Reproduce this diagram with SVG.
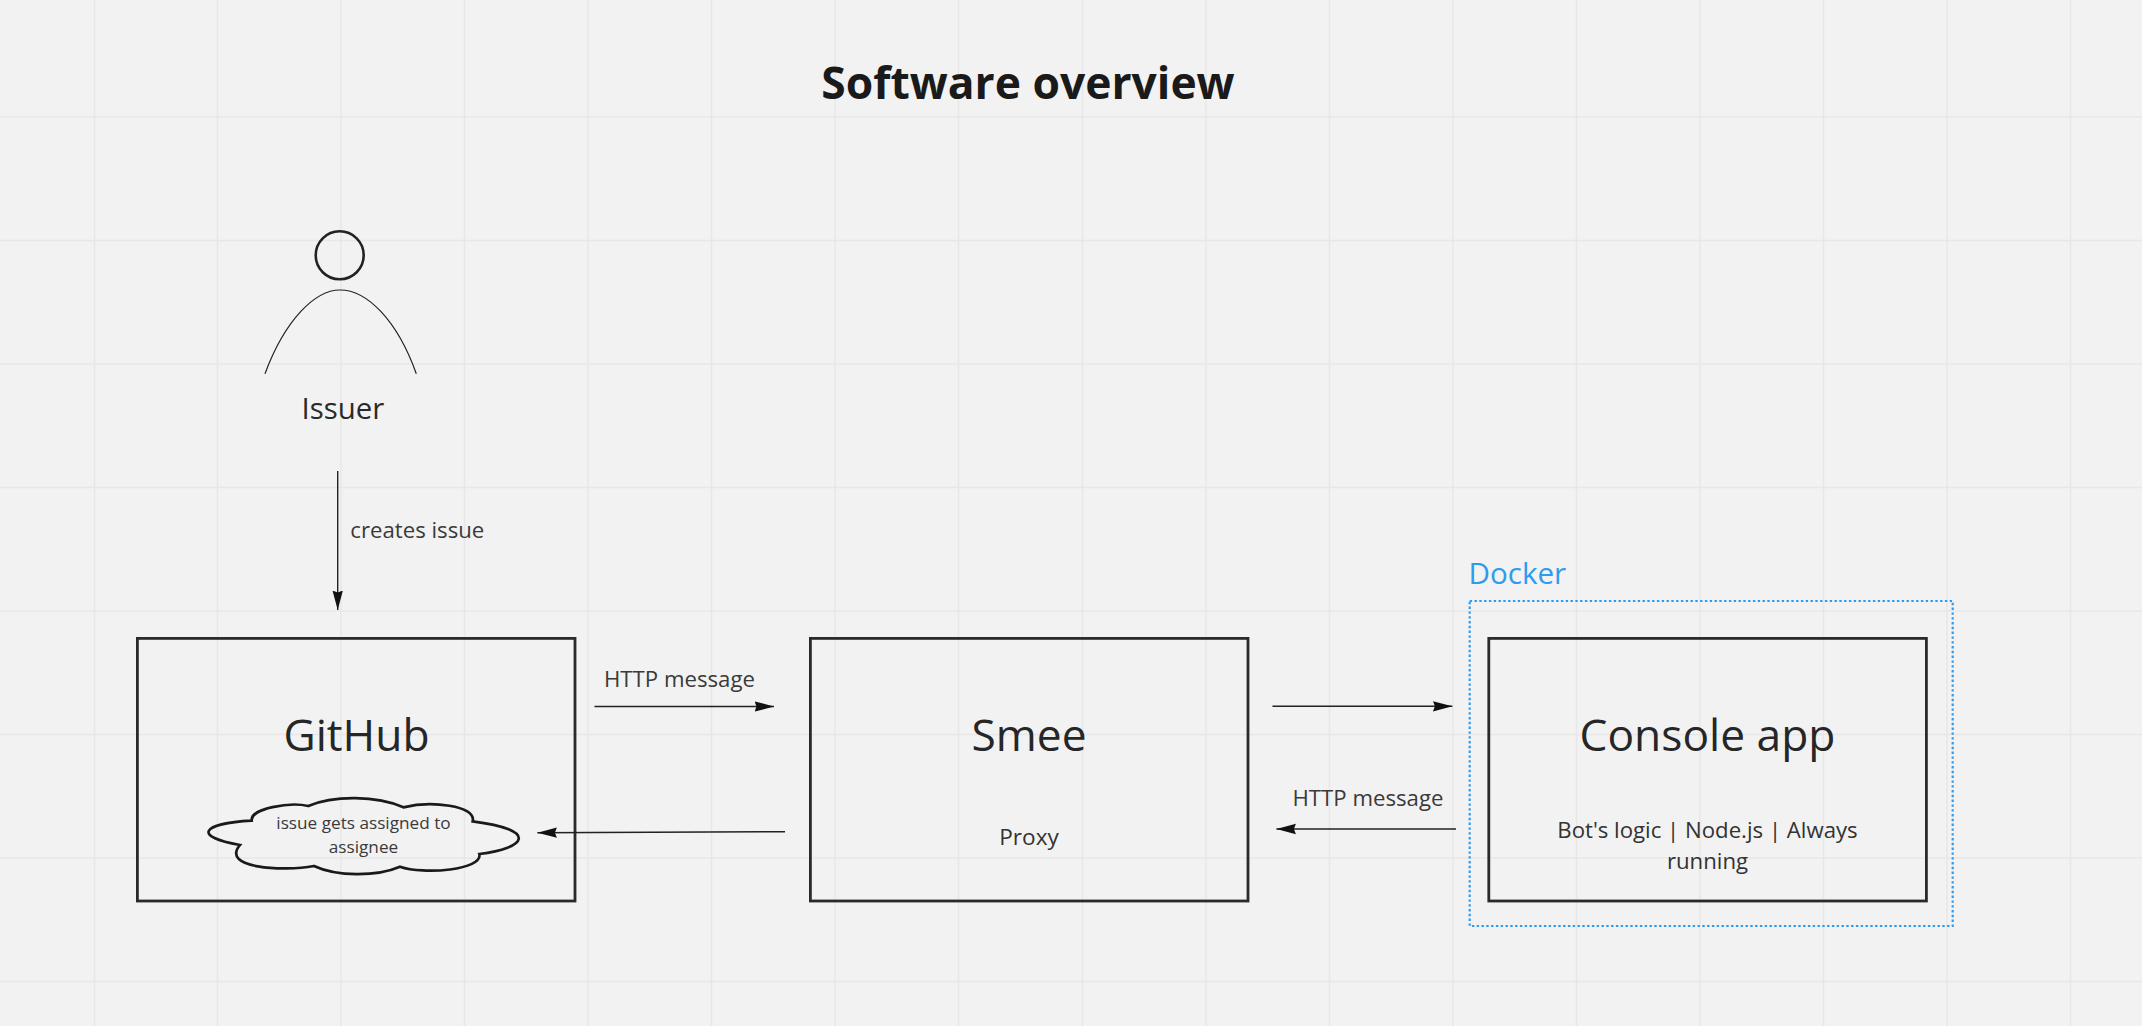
<svg xmlns="http://www.w3.org/2000/svg" width="2142" height="1026" viewBox="0 0 2142 1026">
<style>
text{font-family:"Open Sans","Noto Sans",sans-serif;fill:#222;font-weight:400}
.c{text-anchor:middle}
.big{font-size:44.3px;fill:#262626}
.lab{font-size:22.2px;fill:#3a3a3a}
.sub{font-size:22.6px;fill:#333}
.box{fill:none;stroke:#2a2a2a;stroke-width:2.8}
.grid line{stroke:#e7e7e7;stroke-width:1.5}
.conn line{stroke:#222;stroke-width:1.4;marker-end:url(#a)}
</style>
<defs>
<marker id="a" markerUnits="userSpaceOnUse" markerWidth="20" markerHeight="12" refX="19.5" refY="5.5" orient="auto"><path d="M0 0.3L19.5 5.5L0 10.7L2 5.5Z" fill="#111"/></marker>
</defs>
<rect width="2142" height="1026" fill="#f2f2f2"/>
<g class="grid">
<line x1="94.5" y1="0" x2="94.5" y2="1026"/><line x1="217.5" y1="0" x2="217.5" y2="1026"/><line x1="341" y1="0" x2="341" y2="1026"/><line x1="464.5" y1="0" x2="464.5" y2="1026"/><line x1="588" y1="0" x2="588" y2="1026"/><line x1="711.5" y1="0" x2="711.5" y2="1026"/><line x1="835" y1="0" x2="835" y2="1026"/><line x1="958.5" y1="0" x2="958.5" y2="1026"/><line x1="1082.5" y1="0" x2="1082.5" y2="1026"/><line x1="1206" y1="0" x2="1206" y2="1026"/><line x1="1329.5" y1="0" x2="1329.5" y2="1026"/><line x1="1453" y1="0" x2="1453" y2="1026"/><line x1="1576.5" y1="0" x2="1576.5" y2="1026"/><line x1="1700" y1="0" x2="1700" y2="1026"/><line x1="1823.5" y1="0" x2="1823.5" y2="1026"/><line x1="1947" y1="0" x2="1947" y2="1026"/><line x1="2070.5" y1="0" x2="2070.5" y2="1026"/>
<line x1="0" y1="117" x2="2142" y2="117"/><line x1="0" y1="240.5" x2="2142" y2="240.5"/><line x1="0" y1="364" x2="2142" y2="364"/><line x1="0" y1="487.5" x2="2142" y2="487.5"/><line x1="0" y1="611" x2="2142" y2="611"/><line x1="0" y1="734.5" x2="2142" y2="734.5"/><line x1="0" y1="858" x2="2142" y2="858"/><line x1="0" y1="981.5" x2="2142" y2="981.5"/>
</g>
<text id="title" class="c" x="1028" y="98.5" font-size="44.4" style="font-weight:700;fill:#1a1a1a">Software overview</text>
<g id="issuer">
<circle cx="339.7" cy="255.3" r="24" fill="none" stroke="#222" stroke-width="2.6"/>
<path d="M265 373.7C285 320 315 290 340 290C367 290 397 320 416.3 373.7" fill="none" stroke="#222" stroke-width="1.2"/>
<text class="c" x="343" y="418.5" font-size="29.4" style="fill:#2a2a2a">Issuer</text>
</g>
<g id="github">
<rect class="box" x="137.4" y="638.4" width="437.6" height="262.6"/>
<text class="c big" x="356.5" y="750.5">GitHub</text>
</g>
<g id="cloud">
<path transform="translate(190 780) scale(.33333)" d="M185 122C180 85 300 65 355 78C430 46 560 46 640 82C720 62 860 75 848 124C1050 150 1008 205 868 222C880 270 700 285 630 260C560 290 440 290 372 258C280 275 90 265 150 195C6 170 34 130 185 122Z" fill="none" stroke="#1a1a1a" stroke-width="8"/>
<text class="c" x="363.5" y="828.5" font-size="17.2" style="fill:#3a3a3a">issue gets assigned to</text>
<text class="c" x="363.5" y="852.8" font-size="17.2" style="fill:#3a3a3a">assignee</text>
</g>
<g id="smee">
<rect class="box" x="810.4" y="638.4" width="437.6" height="262.6"/>
<text class="c big" x="1029" y="750.5">Smee</text>
<text class="c sub" x="1029" y="845">Proxy</text>
</g>
<g id="docker">
<rect x="1469.7" y="601" width="483" height="325" fill="none" stroke="#2d9bf0" stroke-width="2.2" stroke-dasharray="2.4 2.4"/>
<text x="1468.5" y="584" font-size="29.6" style="fill:#2d9bf0">Docker</text>
</g>
<g id="console">
<rect class="box" x="1488.8" y="638.4" width="437.6" height="262.6"/>
<text class="c big" x="1707.5" y="750.5">Console app</text>
<text class="c sub" x="1707.5" y="838" style="font-size:22.2px">Bot's logic | Node.js | Always</text>
<text class="c sub" x="1707.5" y="869" style="font-size:22.2px">running</text>
</g>
<g id="connectors" class="conn">
<line x1="337.7" y1="471" x2="337.7" y2="610"/>
<line x1="594.5" y1="706.5" x2="774" y2="706.5"/>
<line x1="785" y1="831.7" x2="537.4" y2="832.7"/>
<line x1="1272.5" y1="706.3" x2="1452.4" y2="706.3"/>
<line x1="1456" y1="829" x2="1276.4" y2="829"/>
</g>
<g id="labels">
<text class="lab" x="350.3" y="538.3">creates issue</text>
<text class="lab" x="604" y="686.7">HTTP message</text>
<text class="lab" x="1292.5" y="805.7">HTTP message</text>
</g>
</svg>
